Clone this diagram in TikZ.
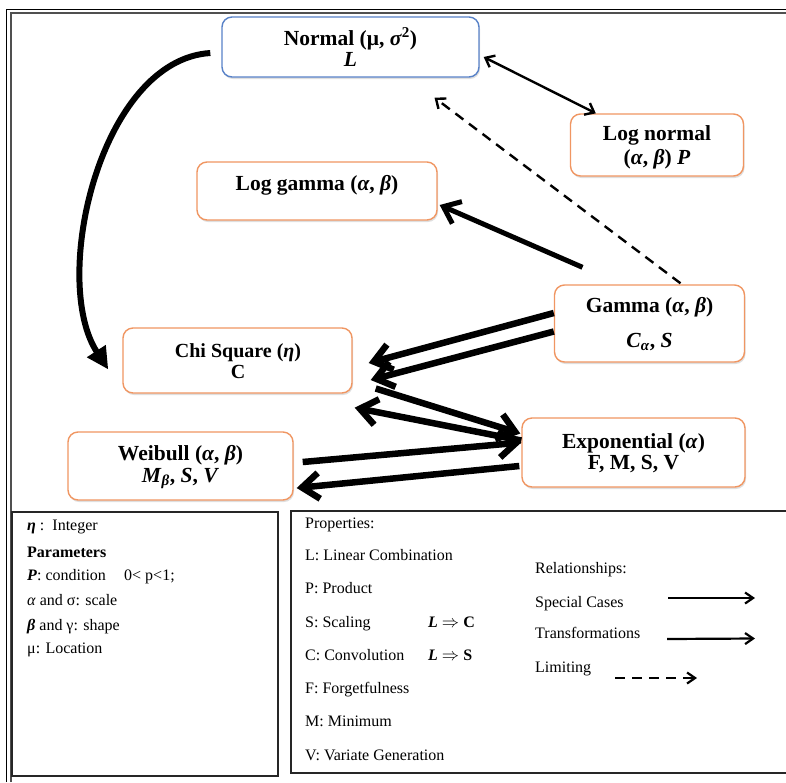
\documentclass[tikz,border=0pt]{standalone}
\usepackage{fontspec}
\setmainfont{Liberation Serif}
\usetikzlibrary{arrows.meta,calc,shadows}
\definecolor{boxorange}{RGB}{240,150,98}
\definecolor{boxblue}{RGB}{88,130,200}
\definecolor{framegray}{RGB}{80,80,80}
\begin{document}
\begin{tikzpicture}[x=1pt,y=-1pt,
  dbox/.style={draw=boxorange, line width=1.4pt, rounded corners=10pt, fill=white,
    drop shadow={opacity=0.25,shadow xshift=1pt,shadow yshift=-2pt}, inner sep=0pt},
  ntext/.style={font=\fontsize{21.5}{24}\selectfont\bfseries, anchor=base, inner sep=0pt},
  ctext/.style={font=\fontsize{20}{22}\selectfont\bfseries, anchor=base, inner sep=0pt},
  ltext/.style={font=\fontsize{16}{18}\selectfont, anchor=base west, inner sep=0pt},
  heavyarrow/.style={line width=6.5pt, -{Straight Barb[length=17pt,width=26pt]}},
  midarrow/.style={line width=5pt, -{Straight Barb[length=15pt,width=24pt]}},
  thinarrow/.style={line width=2.4pt, {Straight Barb[length=8pt,width=13pt]}-{Straight Barb[length=8pt,width=13pt]}},
  limarrow/.style={line width=2.4pt, dash pattern=on 10pt off 7pt, -{Straight Barb[length=8pt,width=13pt]}},
  legarrow/.style={line width=2.2pt, -{Straight Barb[length=8pt,width=11pt]}}
]
\useasboundingbox (0,0) rectangle (786,782);
\fill[white] (0,0) rectangle (786,782);

% frame
\draw[line width=1pt] (6,782) -- (6,9) -- (786,9);
\draw[line width=2pt, framegray] (11,782) -- (11,12.5) -- (786,12.5);

% boxes
\node[dbox, draw=boxblue, minimum width=257pt, minimum height=60pt] (normal) at (350.5,47) {};
\node[dbox, minimum width=173pt, minimum height=62pt] (lognormal) at (657,145) {};
\node[dbox, minimum width=240pt, minimum height=58pt] (loggamma) at (317,191) {};
\node[dbox, minimum width=190pt, minimum height=77pt] (gamma) at (649.5,323.5) {};
\node[dbox, minimum width=229pt, minimum height=65pt] (chi) at (237.5,360.5) {};
\node[dbox, minimum width=225pt, minimum height=68pt] (weibull) at (180.5,466) {};
\node[dbox, minimum width=223pt, minimum height=69pt] (expo) at (633.5,452.5) {};

% connectors
\draw[line width=6pt, -{Triangle[length=22pt,width=21pt]}]
  ($(normal.west)+(-11,6)$) .. controls (100,60) and (50,280) .. ($(chi.west)+(-14,9)$);
\draw[thinarrow] ($(normal.east)+(4,10)$) -- ($(lognormal.north west)+(26,0)$);
\coordinate (limtip) at ($(normal.south)+(84,20)$);
\draw[limarrow] ($(gamma.north)+(31,-1)$) -- (limtip);
\coordinate (lgstart) at ($(gamma.north)+(-67,-17)$);
\draw[midarrow] (lgstart) -- ($(loggamma.east)+(2,14)$);
\draw[heavyarrow] ($(gamma.west)+(0,-10.5)$) -- ($(chi.east)+(16,2.5)$);
\draw[heavyarrow] ($(gamma.west)+(0,8)$) -- ($(chi.east)+(18,19.5)$);
\draw[heavyarrow] ($(chi.east)+(23,28)$) -- ($(expo.west)+(-1,-19)$);
\draw[heavyarrow] ($(expo.west)+(0,-12)$) -- ($(chi.south east)+(2,14)$);
\draw[heavyarrow] ($(weibull.east)+(9,-4)$) -- ($(expo.west)+(0,-10)$);
\draw[heavyarrow] ($(expo.west)+(-2,13.5)$) -- ($(weibull.east)+(3,22)$);

% node texts
\node[ntext] (normalA) at (350.5,45) {Normal (μ, \textit{σ}\textsuperscript{2})};
\node[ntext] (normalB) at (350.5,66) {\textit{L}};
\node[ntext] (lognA) at (657,140) {Log normal};
\node[ntext] (lognB) at (657,164) {(\textit{α}, \textit{β}) \textit{P}};
\node[ntext] (lgA) at (317,190) {Log gamma (\textit{α}, \textit{β})};
\node[ntext] (gamA) at (649.5,312) {Gamma (\textit{α}, \textit{β})};
\node[ntext] (gamB) at (649.5,347) {\textit{C}\textsubscript{\textit{α}}, \textit{S}};
\node[ctext] (chiA) at (238,357) {Chi Square (\textit{η})};
\node[ctext] (chiB) at (238,378) {C};
\node[ntext] (weiA) at (180.5,460) {Weibull (\textit{α}, \textit{β})};
\node[ntext] (weiB) at (180.5,482) {\textit{M}\textsubscript{\textit{β}}, \textit{S}, \textit{V}};
\node[ntext] (expA) at (633.5,448) {Exponential (\textit{α})};
\node[ntext] (expB) at (633.5,469) {F, M, S, V};

% legend boxes
\draw[line width=1.3pt, black!85] (12,512) rectangle (278,776);
\draw[line width=1.3pt, black!85] (800,511) -- (291,511) -- (291,773) -- (800,773);

% left legend
\node[ltext] (l1) at (27,530) {\textbf{\textit{η}} :\ \ Integer};
\node[ltext] (l2) at (27,557) {\textbf{Parameters}};
\node[ltext] (l3) at (27,580) {\textbf{\textit{P}}: condition};
\node[ltext] (l3b) at (124,580) {0< p<1;};
\node[ltext] (l4) at (27,605) {\textit{α} and σ: scale};
\node[ltext] (l5) at (27,630) {\textbf{\textit{β}} and γ: shape};
\node[ltext] (l6) at (27,653) {μ: Location};

% right legend
\node[ltext] (p0) at (305,528.5) {Properties:};
\node[ltext] (p1) at (305,560.5) {L: Linear Combination};
\node[ltext] (p2) at (305,593.5) {P: Product};
\node[ltext] (p3) at (305,627.5) {S: Scaling};
\node[ltext] (p3b) at (428,627.5) {\textbf{\textit{L}} $\Rightarrow$ \textbf{C}};
\node[ltext] (p4) at (305,660.5) {C: Convolution};
\node[ltext] (p4b) at (428,660.5) {\textbf{\textit{L}} $\Rightarrow$ \textbf{S}};
\node[ltext] (p5) at (305,693.5) {F: Forgetfulness};
\node[ltext] (p6) at (305,726.5) {M: Minimum};
\node[ltext] (p7) at (305,760.5) {V: Variate Generation};

\node[ltext] (r0) at (535,573.5) {Relationships:};
\node[ltext] (r1) at (535,607.5) {Special Cases};
\node[ltext] (r2) at (535,638.5) {Transformations};
\node[ltext] (r3) at (535,672.5) {Limiting};
\coordinate (s1a) at (668,598);
\coordinate (s1b) at (755,598);
\coordinate (s2a) at (667,639);
\coordinate (s2b) at (755,638.5);
\coordinate (s3a) at (615,678);
\coordinate (s3b) at (697,678);
\draw[legarrow] (s1a) -- (s1b);
\draw[legarrow] (s2a) -- (s2b);
\draw[legarrow, dash pattern=on 10pt off 7pt] (s3a) -- (s3b);
\end{tikzpicture}
\end{document}
